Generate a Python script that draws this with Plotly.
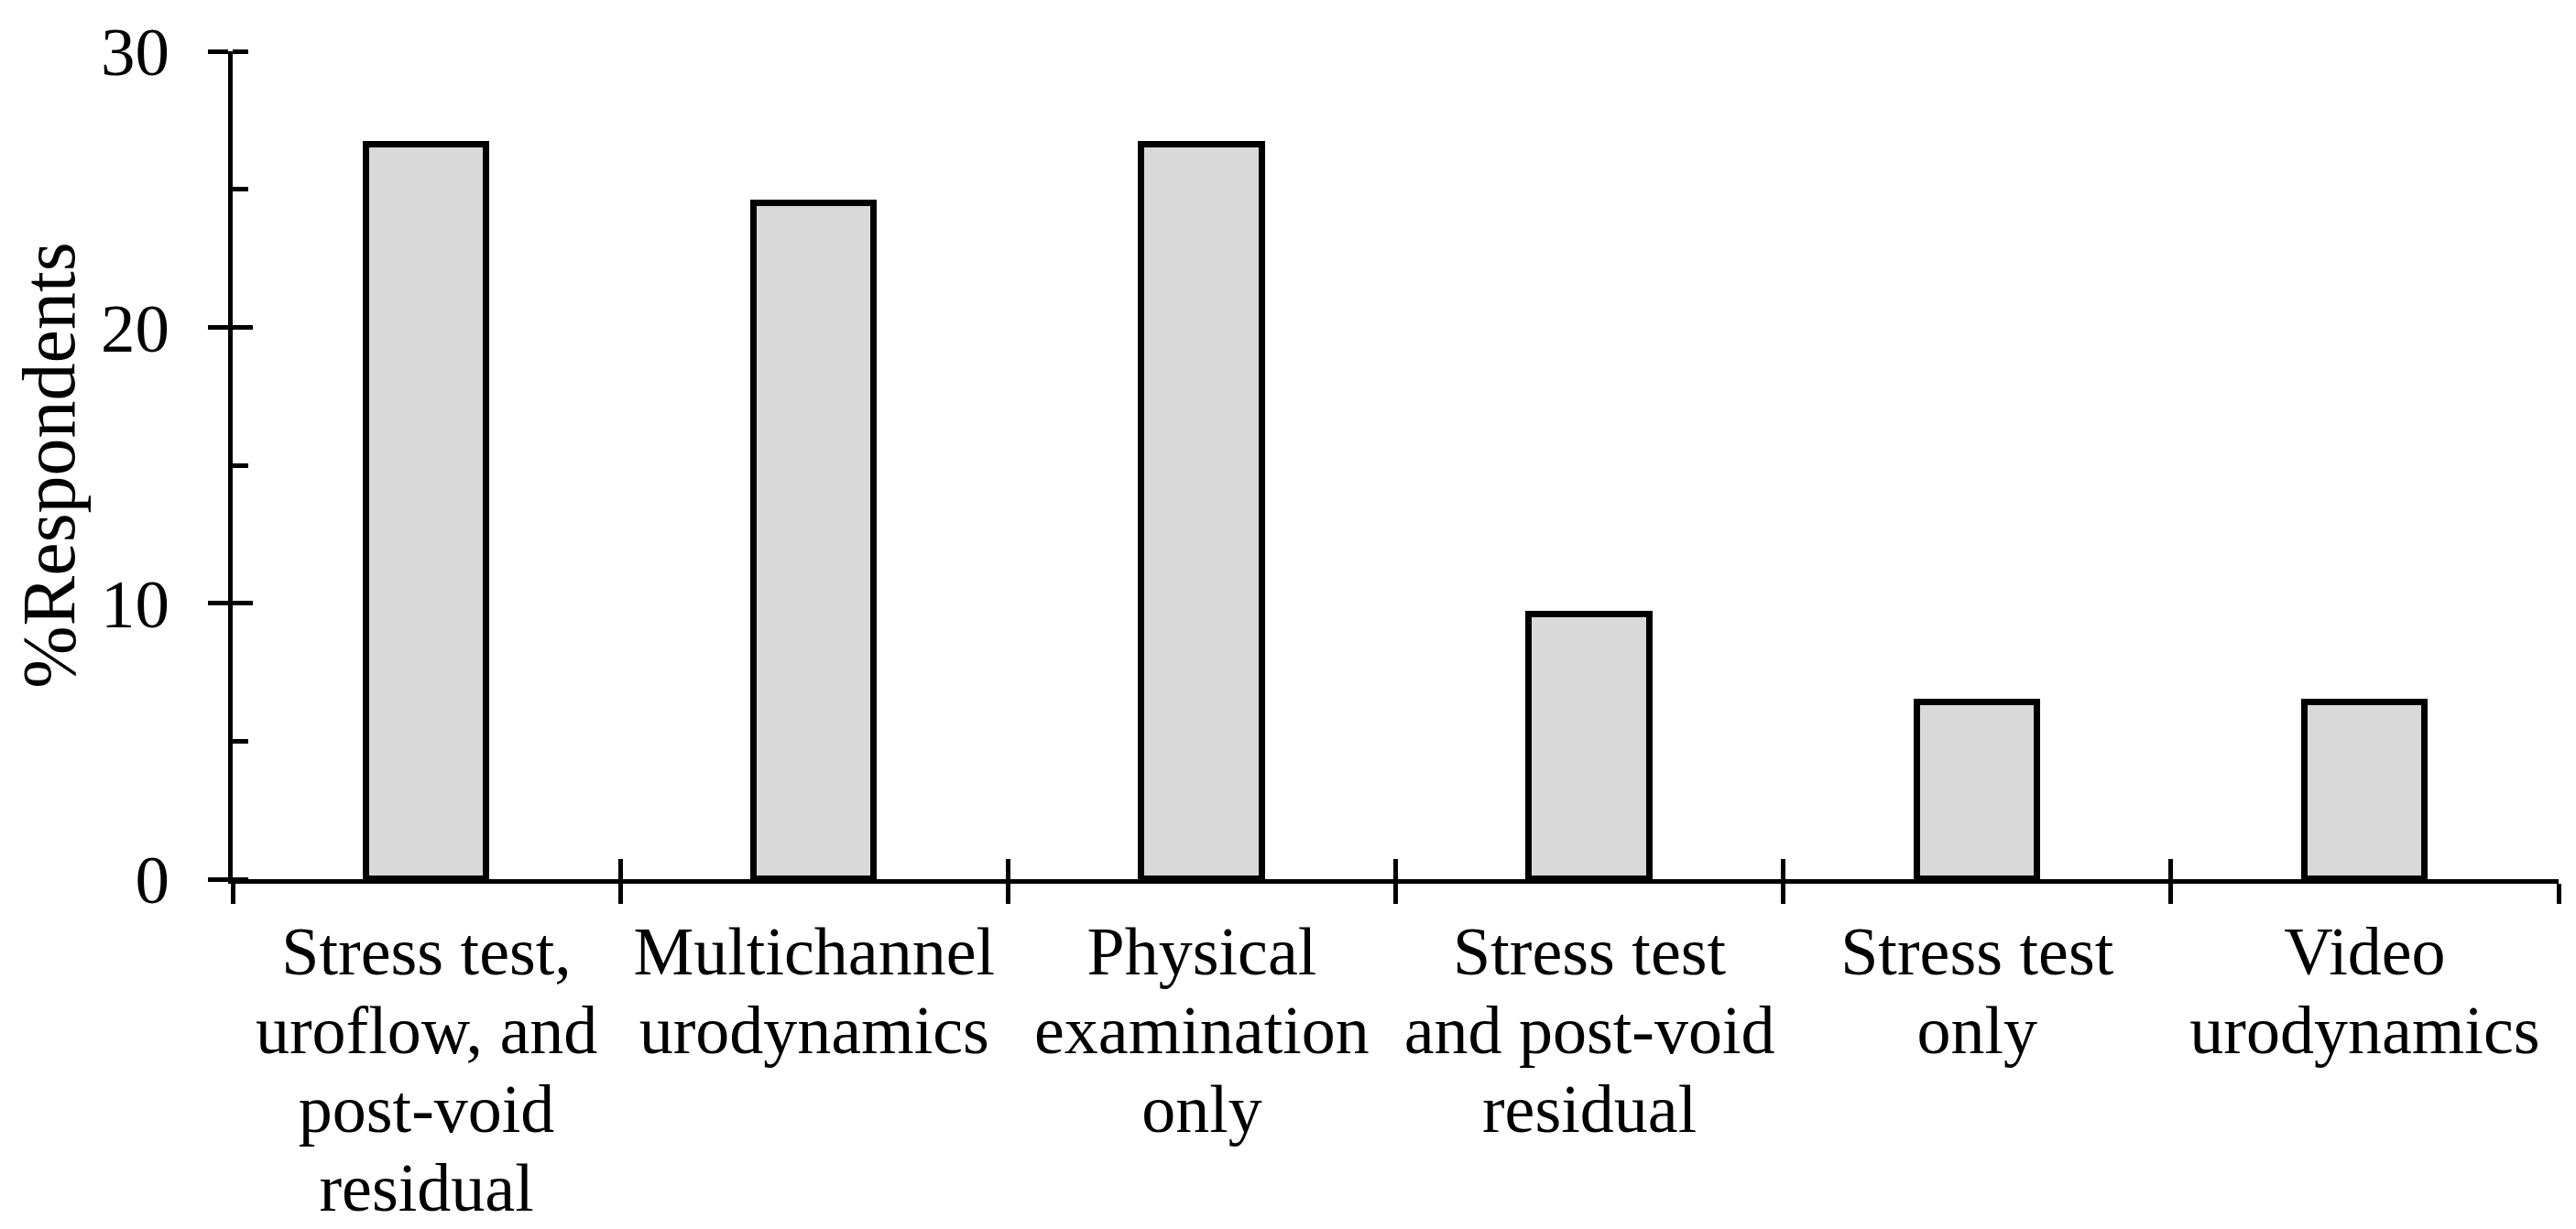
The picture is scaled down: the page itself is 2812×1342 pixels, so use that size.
import plotly.graph_objects as go

# ---- data ----
categories = [
    "Stress test,<br>uroflow, and<br>post-void<br>residual",
    "Multichannel<br>urodynamics",
    "Physical<br>examination<br>only",
    "Stress test<br>and post-void<br>residual",
    "Stress test<br>only",
    "Video<br>urodynamics",
]
values = [26.6, 24.5, 26.6, 9.6, 6.4, 6.4]
y_ticks = [0, 10, 20, 30]
y_title = "%Respondents"

FONT = "Liberation Serif, Times New Roman, serif"
LABEL_PX = 74   # glyph size of category labels
BASE_PX = 66    # base size (controls line spacing)

tick_text = [
    "<br>".join(f"<span style='font-size:{LABEL_PX}px'>{line}</span>" for line in c.split("<br>"))
    for c in categories
]

fig = go.Figure()
fig.add_trace(go.Bar(
    x=categories, y=values, width=0.31,
    marker=dict(color="#d9d9d9", line=dict(color="black", width=7)),
    showlegend=False,
))
# invisible helper trace so the overlay axes exist with same scales
fig.add_trace(go.Scatter(x=[-0.5, len(categories) - 0.5], y=[y_ticks[0], y_ticks[-1]],
                         xaxis="x2", yaxis="y2", mode="markers",
                         marker=dict(opacity=0), hoverinfo="skip", showlegend=False))

n = len(categories)
boundaries = [i - 0.5 for i in range(n + 1)]

fig.update_layout(
    width=2812, height=1342,
    template="none",
    paper_bgcolor="white", plot_bgcolor="white",
    margin=dict(l=246, r=27, t=48, b=390, pad=0),
    font=dict(family=FONT, color="black"),
    bargap=0,
    xaxis=dict(
        type="category", range=[-0.5, n - 0.5], tickson="boundaries",
        tickmode="array", tickvals=categories, ticktext=tick_text,
        ticks="outside", ticklen=22, tickwidth=4.5, tickcolor="black",
        showline=True, linewidth=5, linecolor="black",
        showgrid=False, zeroline=False, automargin=False,
        tickfont=dict(family=FONT, size=BASE_PX, color="black"),
        ticklabelstandoff=20,
    ),
    yaxis=dict(
        range=[y_ticks[0], y_ticks[-1]], tickmode="array", tickvals=y_ticks,
        ticks="outside", ticklen=22, tickwidth=4.5, tickcolor="black",
        minor=dict(ticks="inside", ticklen=17, tickwidth=4.5, tickcolor="black", dtick=5, showgrid=False),
        showline=True, linewidth=5, linecolor="black",
        showgrid=False, zeroline=False, automargin=False,
        tickfont=dict(family=FONT, size=75, color="black"),
        ticklabelstandoff=27,
        title=dict(text=y_title, font=dict(family=FONT, size=82, color="black"), standoff=58),
    ),
    xaxis2=dict(
        overlaying="x", range=[-0.5, n - 0.5], tickmode="array", tickvals=boundaries,
        ticks="inside", ticklen=22, tickwidth=4.5, tickcolor="black",
        showticklabels=False, showline=False, showgrid=False, zeroline=False,
        anchor="y2", side="bottom", automargin=False,
    ),
    yaxis2=dict(
        overlaying="y", range=[y_ticks[0], y_ticks[-1]], tickmode="array", tickvals=y_ticks,
        ticks="inside", ticklen=22, tickwidth=4.5, tickcolor="black",
        showticklabels=False, showline=False, showgrid=False, zeroline=False,
        anchor="x2", side="left", automargin=False,
    ),
)

fig.write_html("out.html")
